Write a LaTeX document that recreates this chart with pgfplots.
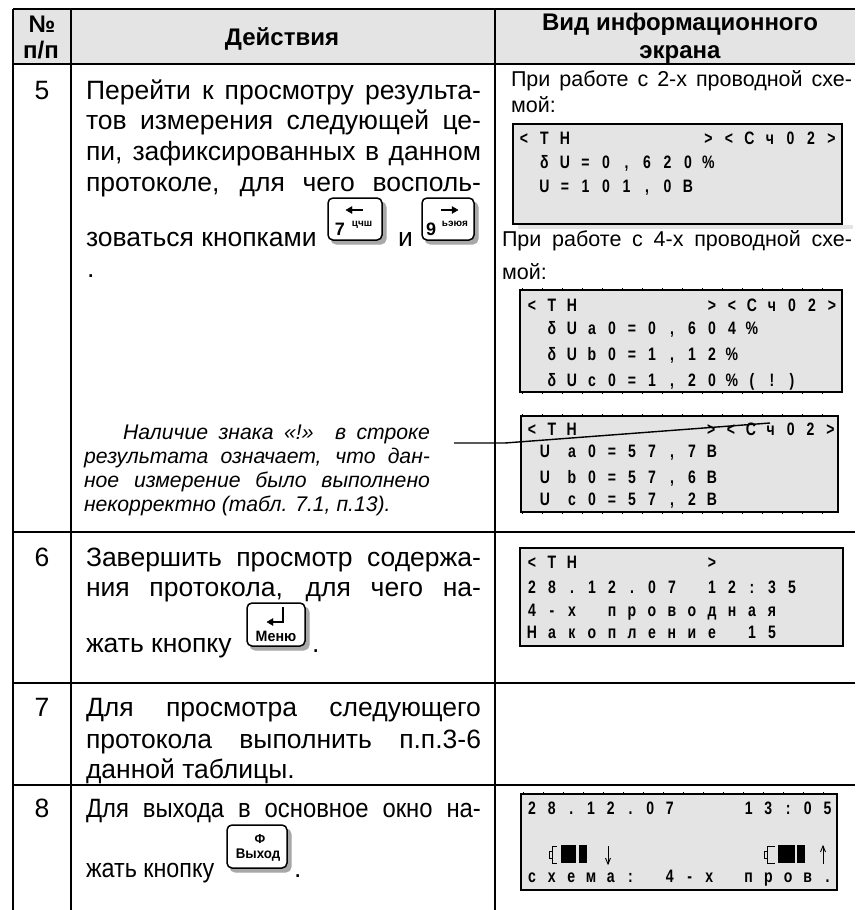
\documentclass[border=0pt]{standalone}
\usepackage{pgfplots}
\pgfplotsset{compat=1.18}
\usepackage{fontspec}
\usepackage{graphicx}
\setmainfont{Liberation Sans}
\newfontfamily\lcdfont[FakeStretch=0.78]{Liberation Sans}
\definecolor{panel}{HTML}{E4E4E4}
\definecolor{shade}{HTML}{A8A8A8}
\newcommand{\fs}[1]{\fontsize{#1}{#1}\selectfont}
% text helpers
\newcommand{\TL}[3]{\node[anchor=base west,inner sep=0pt,outer sep=0pt] at (axis cs:#1,#2) {#3};}
\newcommand{\TC}[3]{\node[anchor=base,inner sep=0pt,outer sep=0pt] at (axis cs:#1,#2) {#3};}
\newcommand{\J}[4]{\node[anchor=base west,inner sep=0pt,outer sep=0pt] at (axis cs:#1,#2) {\makebox[#3pt][s]{#4}};}
% LCD cells
\newlength{\cellw}
\def\cells#1{\cellsA#1\relax}
\def\cellsA#1{\ifx#1\relax\else\makebox[\cellw][c]{#1}\expandafter\cellsA\fi}
\newcommand{\LCD}[4]{\node[anchor=base,inner sep=0pt,outer sep=0pt] at (axis cs:#1,#2) {\setlength{\cellw}{#3pt}\lcdfont\bfseries\fs{18}\rlap{\hspace{-0.5\cellw}\cells{#4}}};}
% shapes
\newcommand{\Rect}[5]{\addplot[fill=#5,draw=none] coordinates {(#1,#2) (#3,#2) (#3,#4) (#1,#4)} --cycle;}
\newcommand{\Disp}[4]{\addplot[fill=panel,draw=black,line width=2.2pt] coordinates {(#1,#2) (#3,#2) (#3,#4) (#1,#4)} --cycle;}
\newcommand{\Btn}[4]{%
\addplot[fill=shade,draw=shade,line width=1pt,rounded corners=5pt] coordinates {(#1+3,#2+4) (#3+4,#2+4) (#3+4,#4+4) (#1+3,#4+4)} --cycle;
\addplot[fill=white,draw=black,line width=1.5pt,rounded corners=5pt] coordinates {(#1,#2) (#3,#2) (#3,#4) (#1,#4)} --cycle;}
\newcommand{\Ln}[2][1.3pt]{\addplot[black,line width=#1] coordinates {#2};}
\newcommand{\Ticks}[3]{\addplot[black,line width=1.5pt,dash pattern=on 1pt off 19pt] coordinates {(#1,#3) (#2,#3)};}
\begin{document}
\begin{tikzpicture}
\begin{axis}[
  scale only axis, width=855pt, height=910pt,
  xmin=0, xmax=855, ymin=0, ymax=910, y dir=reverse,
  hide axis]
\addplot[draw=none] coordinates {(0,0) (855,910)};
% header band
\Rect{13}{9}{855}{64}{panel}
% table rules
\Ln[2pt]{(13,9) (855,9)}
\Ln[2pt]{(13,64) (855,64)}
\Ln[2pt]{(13,532) (855,532)}
\Ln[2pt]{(13,683) (855,683)}
\Ln[2pt]{(13,785) (855,785)}
\Ln[2pt]{(13,9) (13,910)}
\Ln[2pt]{(71,9) (71,910)}
\Ln[2pt]{(495,9) (495,910)}
% header text
\TC{42}{32}{\fs{24}\bfseries №}
\TC{41}{58}{\fs{24}\bfseries п/п}
\TC{282}{45}{\fs{24}\bfseries Действия}
\TC{680}{30}{\fs{24}\bfseries Вид информационного}
\TC{680}{58}{\fs{24}\bfseries экрана}
% row numbers
\TC{42}{99}{\fs{26.5}5}
\TC{42}{566}{\fs{26.5}6}
\TC{42}{716}{\fs{26.5}7}
\TC{42}{817}{\fs{26.5}8}
% row 5
\J{86}{99}{395}{\fs{26.5}Перейти к просмотру результа-}
\J{86}{129}{395}{\fs{26.5}тов измерения следующей це-}
\J{86}{160}{395}{\fs{26.5}пи, зафиксированных в данном}
\J{86}{191}{395}{\fs{26.5}протоколе, для чего восполь-}
\TL{86}{246}{\fs{26.5}зоваться кнопками}
\TL{398}{246}{\fs{26.5}и}
\TL{87}{277}{\fs{26.5}.}
% key 7
\Btn{328}{198}{382}{240}
\Ln[1.6pt]{(350,210) (363,210)}
\addplot[black,fill=black,line width=0.4pt] coordinates {(346,210) (352,206.5) (352,213.5)} --cycle;
\TC{340}{235}{\fs{18}\bfseries 7}
\TC{362}{226}{\fs{10}\bfseries цчш}
% key 9
\Btn{422}{198}{474}{240}
\Ln[1.6pt]{(441,210) (454,210)}
\addplot[black,fill=black,line width=0.4pt] coordinates {(458,210) (452,206.5) (452,213.5)} --cycle;
\TC{431}{235}{\fs{18}\bfseries 9}
\TC{455}{226}{\fs{10}\bfseries ьэюя}
% note
\J{123}{439}{307}{\fs{21.2}\itshape Наличие знака «!» в строке}
\J{84}{463}{346}{\fs{21.2}\itshape результата означает, что дан-}
\J{84}{487}{346}{\fs{21.2}\itshape ное измерение было выполнено}
\TL{84}{511}{\fs{21.2}\itshape некорректно (табл. 7.1, п.13).}
% row 6
\J{86}{566}{395}{\fs{26.5}Завершить просмотр содержа-}
\J{86}{596}{395}{\fs{26.5}ния протокола, для чего на-}
\TL{86}{652}{\fs{26.5}жать кнопку}
\TL{312}{652}{\fs{26.5}.}
\Btn{247}{603}{305}{646}
\Ln[2pt]{(283,607) (283,622) (272,622)}
\addplot[black,fill=black,line width=0.4pt] coordinates {(267,622) (273,618.5) (273,625.5)} --cycle;
\TC{276}{641}{\fs{15}\bfseries\addfontfeatures{FakeStretch=0.95}Меню}
% row 7
\J{86}{716}{395}{\fs{26.5}Для просмотра следующего}
\J{86}{748}{395}{\fs{26.5}протокола выполнить п.п.3-6}
\TL{86}{778}{\fs{26.5}данной таблицы.}
% row 8
\J{86}{817}{395}{\fs{26.5}\addfontfeatures{FakeStretch=0.9}Для выхода в основное окно на-}
\TL{86}{877}{\fs{26.5}\addfontfeatures{FakeStretch=0.88}жать кнопку}
\TL{294}{877}{\fs{26.5}.}
\Btn{227}{825}{287}{868}
\TC{260}{843}{\fs{13}\bfseries Φ}
\TC{258}{858}{\fs{14}\bfseries\addfontfeatures{FakeStretch=0.95}Выход}
% right column text
\J{511}{86}{341}{\fs{21.5}При работе с 2-х проводной схе-}
\TL{511}{112}{\fs{21.5}мой:}
\J{502}{246}{350}{\fs{21.5}При работе с 4-х проводной схе-}
\TL{502}{279}{\fs{21.5}мой:}
% display 1
\Rect{518}{225}{853}{229}{panel}
\Disp{513}{124}{842}{224}
\LCD{524}{144}{20.5}{<TН~~~~~~><Сч02>}
\LCD{524}{168}{20.5}{~δU=0,620\%}
\LCD{524}{192}{20.5}{~U=101,0В}
% display 2
\Ticks{522}{842}{289}
\Ticks{522}{842}{393}
\Disp{520}{290}{842}{392}
\LCD{532}{311}{20}{<ТН~~~~~~><Сч02>}
\LCD{532}{334}{20}{~δUa0=0,604\%}
\LCD{532}{360}{20}{~δUb0=1,12\%}
\LCD{532}{386}{20}{~δUc0=1,20\%(!)}
% display 3
\Ticks{522}{838}{415}
\Ticks{522}{838}{513}
\Disp{521}{416}{838}{512}
\LCD{532}{435}{19.9}{<ТН~~~~~~><Сч02>}
\LCD{545}{457}{20}{U}
\LCD{545}{483}{20}{U}
\LCD{545}{505}{20}{U}
\LCD{532}{457}{20}{~~a0=57,7В}
\LCD{532}{483}{20}{~~b0=57,6В}
\LCD{532}{505}{20}{~~c0=57,2В}
% callout
\Ln[1.4pt]{(454,443) (505,443) (770,423)}
% display 4
\Disp{520}{548}{843}{646}
\LCD{532}{568}{20}{<ТН~~~~~~>}
\LCD{532}{593}{20}{28.12.07~12:35}
\LCD{532}{616}{20}{4-х~проводная}
\LCD{532}{638}{20}{Накопление~15}
% display 5
\Ticks{523}{837}{793}
\Disp{521}{794}{837}{890}
\LCD{532}{814}{19.7}{28.12.07~~~13:05}
\LCD{532}{882}{19.7}{схема:~4-х~пров.}
% batteries
\Ln[0.9pt]{(557,846) (552,846) (552,863) (557,863)}
\Ln[0.9pt]{(552,851) (549,851) (549,858) (552,858)}
\Rect{561}{845}{576}{863}{black}
\Rect{579}{845}{587}{863}{black}
\Ln[0.9pt]{(608,846) (608,864)}
\Ln[0.9pt]{(605.5,858) (608,864) (610.5,858)}
\Ln[0.9pt]{(775,846) (767,846) (767,863) (775,863)}
\Ln[0.9pt]{(767,851) (764,851) (764,858) (767,858)}
\Rect{778}{845}{795}{863}{black}
\Rect{797}{845}{805}{863}{black}
\Ln[0.9pt]{(823,846) (823,864)}
\Ln[0.9pt]{(820.5,852) (823,846) (825.5,852)}
\end{axis}
\end{tikzpicture}
\end{document}
